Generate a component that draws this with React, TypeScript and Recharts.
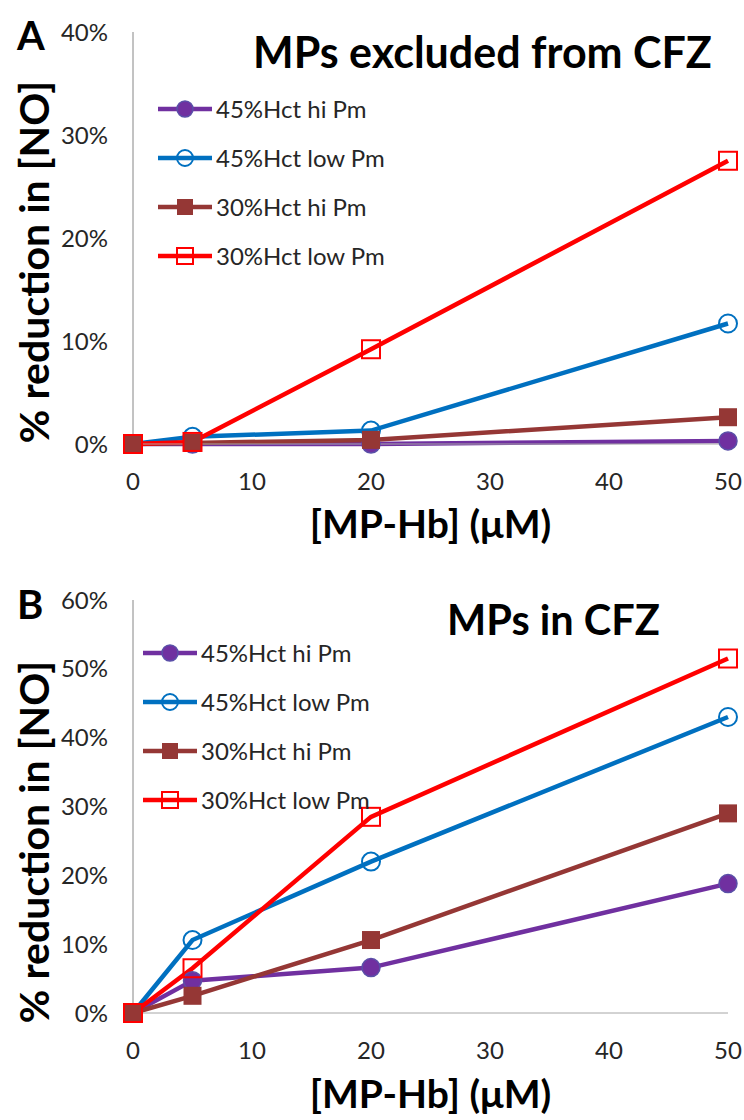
import { LineChart, Line, XAxis, YAxis, Legend, Label } from "recharts";

const doses = [0, 5, 20, 50];
const doseTicks = [0, 10, 20, 30, 40, 50];
const seriesNames = ["45%Hct hi Pm", "45%Hct low Pm", "30%Hct hi Pm", "30%Hct low Pm"];

// panel A: MPs excluded from CFZ
const aHct45Hi = [0, 0.0, 0.0, 0.003];
const aHct45Low = [0, 0.007, 0.013, 0.117];
const aHct30Hi = [0, 0.001, 0.004, 0.026];
const aHct30Low = [0, 0.002, 0.092, 0.275];
const aTicks = [0, 0.1, 0.2, 0.3, 0.4];

// panel B: MPs in CFZ
const bHct45Hi = [0, 0.047, 0.066, 0.188];
const bHct45Low = [0, 0.106, 0.22, 0.43];
const bHct30Hi = [0, 0.025, 0.106, 0.29];
const bHct30Low = [0, 0.065, 0.285, 0.515];
const bTicks = [0, 0.1, 0.2, 0.3, 0.4, 0.5, 0.6];

const FONT = "Lato, 'Open Sans', sans-serif";
const keys = ["s0", "s1", "s2", "s3"];
const styles = [
  { color: "#7030A0", marker: "filledCircle" },
  { color: "#0070C0", marker: "openCircle" },
  { color: "#953735", marker: "filledSquare" },
  { color: "#FF0000", marker: "openSquare" },
];

function buildRows(series: number[][]) {
  return doses.map((d, i) => {
    const row: Record<string, number> = { dose: d };
    series.forEach((s, j) => (row[keys[j]] = s[i]));
    return row;
  });
}

function Marker({ type, cx, cy, color, size = 9 }: any) {
  if (type === "filledCircle")
    return <circle cx={cx} cy={cy} r={size} fill={color} stroke="#5a4fa8" strokeWidth={1.5} />;
  if (type === "openCircle")
    return <circle cx={cx} cy={cy} r={size} fill="none" stroke={color} strokeWidth={2} />;
  if (type === "filledSquare")
    return <rect x={cx - size} y={cy - size} width={size * 2} height={size * 2} fill={color} />;
  return (
    <rect x={cx - size} y={cy - size} width={size * 2} height={size * 2} fill="none" stroke={color} strokeWidth={2} />
  );
}

function LegendBox() {
  return (
    <div style={{ fontFamily: FONT, fontSize: 24, color: "#262626" }}>
      {seriesNames.map((name, i) => (
        <div key={name} style={{ display: "flex", alignItems: "center", height: 49 }}>
          <svg width={56} height={24} style={{ marginRight: 3 }}>
            <line x1={1} y1={12} x2={55} y2={12} stroke={styles[i].color} strokeWidth={4.5} />
            <Marker type={styles[i].marker} cx={28} cy={12} color={styles[i].color} size={8} />
          </svg>
          <span>{name}</span>
        </div>
      ))}
    </div>
  );
}

interface PanelProps {
  rows: Record<string, number>[];
  ticks: number[];
  letter: string;
  title: string;
  titleSize: number;
  titleLeft: number;
  titleTop: number;
  letterTop: number;
  marginTop: number;
  axisHeight: number;
  xLabelOffset: number;
  yLabelCenter: number;
  legendLeft: number;
  legendTop: number;
}

function Panel(p: PanelProps) {
  const tickStyle = { fontFamily: FONT, fontSize: 24, fill: "#262626" };
  const yc = p.yLabelCenter;
  return (
    <div style={{ position: "relative", width: 744, height: 560 }}>
      <LineChart
        width={744}
        height={560}
        data={p.rows}
        margin={{ top: p.marginTop, right: 16, left: 0, bottom: 0 }}
      >
        <XAxis
          dataKey="dose"
          type="number"
          domain={[0, 50]}
          ticks={doseTicks}
          height={p.axisHeight}
          tickLine={false}
          tickSize={0}
          tickMargin={29}
          stroke="#a6a6a6"
          tick={tickStyle}
          label={{
            value: "[MP-Hb] (μM)",
            position: "insideBottom",
            offset: p.xLabelOffset,
            style: { fontFamily: FONT, fontSize: 39, fontWeight: 700, fill: "#000" },
          }}
        />
        <YAxis
          type="number"
          domain={[0, p.ticks[p.ticks.length - 1]]}
          ticks={p.ticks}
          width={133}
          tickLine={false}
          tickSize={0}
          tickMargin={25}
          stroke="#868686"
          tick={tickStyle}
          tickFormatter={(v: number) => `${Math.round(v * 100)}%`}
        >
          <Label
            value="% reduction in [NO]"
            content={() => (
              <text
                x={33}
                y={yc}
                transform={`rotate(-90, 33, ${yc})`}
                textAnchor="middle"
                dominantBaseline="central"
                style={{ fontFamily: FONT, fontSize: 41, fontWeight: 700, fill: "#000" }}
              >
                % reduction in [NO]
              </text>
            )}
          />
        </YAxis>
        <Legend
          layout="horizontal"
          align="center"
          verticalAlign="middle"
          wrapperStyle={{ left: p.legendLeft, top: p.legendTop, width: "auto" }}
          content={() => <LegendBox />}
        />
        {keys.map((k, i) => (
          <Line
            key={k}
            dataKey={k}
            name={seriesNames[i]}
            type="linear"
            stroke={styles[i].color}
            strokeWidth={4.5}
            isAnimationActive={false}
            dot={(d: any) => (
              <g key={`${k}-${d.index}`}>
                <Marker type={styles[i].marker} cx={d.cx} cy={d.cy} color={styles[i].color} />
              </g>
            )}
            activeDot={false}
          />
        ))}
      </LineChart>
      <div
        style={{
          position: "absolute",
          left: 17,
          top: p.letterTop,
          fontFamily: FONT,
          fontWeight: 700,
          fontSize: 40,
          lineHeight: 1,
        }}
      >
        {p.letter}
      </div>
      <div
        style={{
          position: "absolute",
          left: p.titleLeft,
          top: p.titleTop,
          fontFamily: FONT,
          fontWeight: 700,
          fontSize: p.titleSize,
          lineHeight: 1,
          whiteSpace: "nowrap",
        }}
      >
        {p.title}
      </div>
    </div>
  );
}

export default function App() {
  return (
    <div style={{ position: "absolute", left: 0, top: 0, width: 744, height: 1120, background: "#fff" }}>
      <Panel
        rows={buildRows([aHct45Hi, aHct45Low, aHct30Hi, aHct30Low])}
        ticks={aTicks}
        letter="A"
        title="MPs excluded from CFZ"
        titleSize={43}
        titleLeft={253}
        titleTop={30}
        letterTop={15}
        marginTop={32}
        axisHeight={116}
        xLabelOffset={22}
        yLabelCenter={262}
        legendLeft={157}
        legendTop={84}
      />
      <Panel
        rows={buildRows([bHct45Hi, bHct45Low, bHct30Hi, bHct30Low])}
        ticks={bTicks}
        letter="B"
        title="MPs in CFZ"
        titleSize={41.5}
        titleLeft={447}
        titleTop={39}
        letterTop={24}
        marginTop={40}
        axisHeight={107}
        xLabelOffset={12}
        yLabelCenter={282}
        legendLeft={142}
        legendTop={68}
      />
    </div>
  );
}
